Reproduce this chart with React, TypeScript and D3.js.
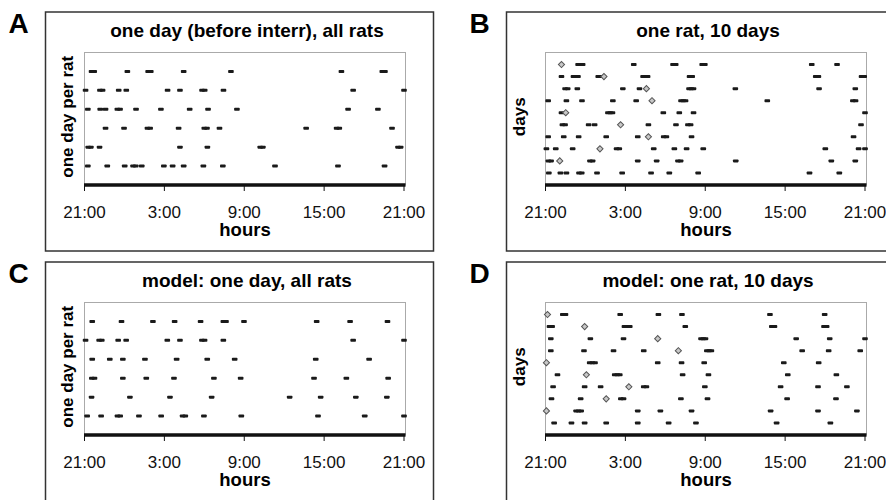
import React from 'react';
import * as d3 from 'd3';

// hours since 21:00 (0 = 21:00, 24 = 21:00 next day)
const hourTicks = [0, 6, 12, 18, 24];
const hourLabels = ['21:00', '3:00', '9:00', '15:00', '21:00'];

// A: one day before interruption, one row per rat (bottom row first)
const ratsDay = [
  [0.25, 1.71, 3.02, 3.65, 3.85, 4.3, 5.96, 6.62, 7.45, 8.93, 10.39, 14.31, 19.04, 22.54],
  [0.28, 0.48, 1.13, 7.17, 9.23, 13.2, 13.4, 23.55, 23.75],
  [1.58, 2.97, 4.73, 4.93, 7.07, 9.0, 9.2, 10.14, 16.65, 18.94, 19.14, 23.1],
  [0.25, 1.18, 1.58, 2.47, 2.67, 3.87, 5.74, 7.9, 9.28, 11.45, 19.8, 22.04],
  [0.08, 1.16, 1.36, 2.57, 3.14, 6.24, 7.17, 8.83, 9.03, 10.44, 20.18, 24.0],
  [0.53, 0.73, 3.22, 4.78, 4.98, 7.45, 11.0, 19.3, 22.37, 22.57],
];

// B: one rat, 10 days (bottom row = day 1)
const ratDays = [
  [0.25, 1.12, 1.57, 2.52, 2.72, 3.87, 5.76, 7.93, 9.3, 11.47, 19.83, 22.07],
  [0.22, 0.42, 3.34, 3.54, 6.93, 8.35, 9.95, 10.15, 14.29, 21.47, 23.27],
  [0.07, 0.77, 2.04, 5.34, 5.54, 8.13, 9.68, 10.6, 11.85, 21.02, 23.52, 24.0],
  [0.2, 1.37, 2.49, 4.56, 6.93, 8.88, 9.08, 10.97, 23.14],
  [1.27, 1.47, 3.24, 3.69, 7.73, 9.8, 10.7, 10.9, 23.7],
  [1.2, 4.69, 4.86, 5.03, 8.85, 10.05, 11.12, 24.0],
  [0.2, 1.57, 2.74, 5.06, 6.81, 10.18, 10.35, 10.52, 16.66, 23.09, 23.29],
  [1.47, 1.67, 2.39, 5.81, 7.06, 10.78, 10.95, 11.12, 14.26, 20.55, 23.27],
  [1.2, 2.1, 2.27, 2.44, 3.96, 4.16, 7.33, 7.5, 7.67, 10.82, 11.02, 20.3, 20.5, 23.74, 23.94],
  [2.45, 2.62, 2.79, 6.63, 9.58, 9.78, 11.77, 11.97, 20.0, 21.9],
];
const ratDayDiamonds = [null, 1.07, 4.09, 7.73, 5.64, 1.52, 8.0, 7.58, 4.39, 1.2];

// C: model, one day, all rats
const modelRatsDay = [
  [0.2, 1.25, 2.48, 2.68, 4.09, 5.76, 7.37, 7.57, 8.97, 11.78, 17.54, 21.05, 24.0],
  [0.53, 3.41, 6.42, 9.55, 15.41, 17.74, 20.38, 22.71],
  [0.55, 0.75, 2.88, 4.64, 6.72, 9.72, 11.73, 17.24, 19.67, 22.81],
  [0.58, 1.9, 2.88, 4.54, 6.92, 9.22, 11.28, 17.37, 21.38],
  [0.08, 1.1, 1.3, 2.53, 3.13, 6.22, 7.17, 8.82, 9.02, 10.43, 20.18, 24.0],
  [0.58, 2.78, 5.14, 6.77, 8.72, 10.43, 10.63, 11.98, 17.44, 19.95, 22.76],
];

// D: model, one rat, 10 days
const modelRatDays = [
  [0.65, 1.95, 2.94, 4.56, 6.93, 9.25, 11.3, 17.36, 21.4],
  [2.3, 2.49, 2.68, 6.93, 8.63, 10.97, 16.91, 20.47, 23.39],
  [0.45, 2.64, 5.66, 5.86, 10.17, 12.17, 18.15, 21.82],
  [0.57, 2.94, 4.14, 7.38, 7.58, 11.97, 17.66, 20.47, 22.64],
  [0.9, 5.2, 5.39, 5.58, 10.3, 12.24, 18.2, 21.85],
  [3.32, 3.52, 3.72, 8.43, 10.22, 11.92, 17.9, 20.52],
  [0.4, 2.89, 5.11, 7.38, 12.12, 12.29, 12.46, 19.28, 21.27, 23.64],
  [0.4, 3.37, 5.86, 11.68, 11.85, 12.02, 18.83, 21.35, 24.0],
  [0.3, 0.5, 5.93, 6.13, 6.33, 10.5, 17.0, 17.2, 20.92, 21.12],
  [1.3, 1.5, 5.61, 8.48, 10.25, 16.86, 20.97],
];
const modelRatDayDiamonds = [null, 0.07, 4.56, 6.26, 3.07, 0.07, 9.98, 8.43, 2.94, 0.15];

const font = '"Liberation Sans", Arial, Helvetica, sans-serif';

type PanelProps = {
  letter: string;
  title: string;
  yLabel: string;
  yLabelOffset: number;
  rows: number[][];
  diamonds?: (number | null)[];
  left: number;
  top: number;
};

const Panel = ({ letter, title, yLabel, yLabelOffset, rows, diamonds, left, top }: PanelProps) => {
  const boxW = 388;
  const boxH = 239;
  const plot = { left: 39, top: 40.5, width: 321, height: 132.5 };

  const x = d3.scaleLinear().domain([0, 24]).range([0, plot.width - 1.5]);
  const y = d3.scaleLinear().domain([0, rows.length + 1]).range([plot.height, 0]);
  const diamond = d3.symbol(d3.symbolSquare, 19)();

  return (
    <g transform={`translate(${left},${top})`}>
      <text x={-27} y={21} textAnchor="middle" fontSize={28} fontWeight="bold" fontFamily={font}>
        {letter}
      </text>
      <rect x={0} y={0} width={boxW} height={boxH} fill="#fff" stroke="#333" strokeWidth={1.5} />
      <text
        x={plot.left + plot.width / 2 + 2}
        y={24.7}
        textAnchor="middle"
        fontSize={19}
        fontWeight="bold"
        fontFamily={font}
      >
        {title}
      </text>
      <text
        transform={`translate(${yLabelOffset},${plot.top + plot.height / 2 - 2}) rotate(-90)`}
        textAnchor="middle"
        fontSize={17}
        fontWeight="bold"
        fontFamily={font}
      >
        {yLabel}
      </text>
      <g transform={`translate(${plot.left},${plot.top})`}>
        <rect x={0} y={0} width={plot.width} height={plot.height} fill="#fff" stroke="#aaa" strokeWidth={1} />
        {rows.map((hours, i) =>
          hours.map((h, j) => (
            <rect
              key={`${i}-${j}`}
              x={x(h) - 2.8}
              y={y(i + 1) - 1.5}
              width={5.6}
              height={3}
              rx={0.8}
              fill="#1a1a1a"
            />
          ))
        )}
        {diamonds &&
          diamonds.map((h, i) =>
            h === null ? null : (
              <path
                key={`d${i}`}
                d={diamond || ''}
                transform={`translate(${x(h)},${y(i + 1)}) rotate(45)`}
                fill="#c8c8c8"
                stroke="#555"
                strokeWidth={1}
              />
            )
          )}
        <line x1={-0.5} x2={plot.width} y1={plot.height} y2={plot.height} stroke="#111" strokeWidth={3.5} />
        {hourTicks.map((t, i) => (
          <g key={t} transform={`translate(${x(t)},${plot.height})`}>
            <line y1={0} y2={6} stroke="#111" strokeWidth={1} />
            <text y={32.5} textAnchor="middle" fontSize={17} fontFamily={font} fill="#111">
              {hourLabels[i]}
            </text>
          </g>
        ))}
        <text
          x={plot.width / 2}
          y={plot.height + 51}
          textAnchor="middle"
          fontSize={18.5}
          fontWeight="bold"
          fontFamily={font}
        >
          hours
        </text>
      </g>
    </g>
  );
};

const App = () => {
  return (
    <svg
      width={886}
      height={500}
      style={{ position: 'absolute', left: 0, top: 0, background: '#fff' }}
    >
      <Panel
        letter="A"
        title="one day (before interr), all rats"
        yLabel="one day per rat"
        yLabelOffset={27}
        rows={ratsDay}
        left={45.5}
        top={12}
      />
      <Panel
        letter="B"
        title="one rat, 10 days"
        yLabel="days"
        yLabelOffset={18}
        rows={ratDays}
        diamonds={ratDayDiamonds}
        left={506.5}
        top={12}
      />
      <Panel
        letter="C"
        title="model: one day, all rats"
        yLabel="one day per rat"
        yLabelOffset={27}
        rows={modelRatsDay}
        left={45.5}
        top={262}
      />
      <Panel
        letter="D"
        title="model: one rat, 10 days"
        yLabel="days"
        yLabelOffset={18}
        rows={modelRatDays}
        diamonds={modelRatDayDiamonds}
        left={506.5}
        top={262}
      />
    </svg>
  );
};

export default App;
